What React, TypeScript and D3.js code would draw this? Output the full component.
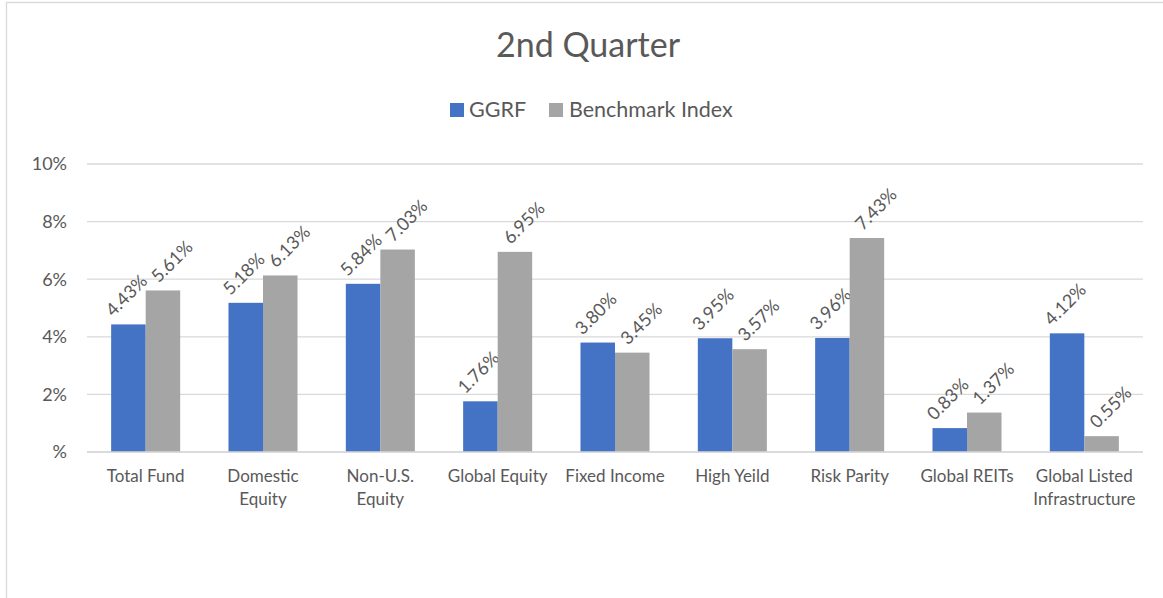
import * as d3 from 'd3'

const categories = [
  'Total Fund', 'Domestic Equity', 'Non-U.S. Equity', 'Global Equity', 'Fixed Income',
  'High Yeild', 'Risk Parity', 'Global REITs', 'Global Listed Infrastructure',
]
const categoryLines = [
  ['Total Fund'], ['Domestic', 'Equity'], ['Non-U.S.', 'Equity'], ['Global Equity'], ['Fixed Income'],
  ['High Yeild'], ['Risk Parity'], ['Global REITs'], ['Global Listed', 'Infrastructure'],
]
const ggrf = [4.43, 5.18, 5.84, 1.76, 3.80, 3.95, 3.96, 0.83, 4.12]
const benchmark = [5.61, 6.13, 7.03, 6.95, 3.45, 3.57, 7.43, 1.37, 0.55]
const seriesNames = ['GGRF', 'Benchmark Index']
const seriesColors = ['#4472C4', '#A5A5A5']
const yTicks = [0, 2, 4, 6, 8, 10]

const W = 1163
const H = 598
const M = { top: 164, right: 20, bottom: 146, left: 87 }
const FONT = 'Lato, Calibri, sans-serif'
const TEXT = '#595959'
const GRID = '#D9D9D9'

export default function App() {
  const x0 = d3.scaleBand().domain(categories).range([M.left, W - M.right]).padding(0)
  const x1 = d3.scaleBand().domain(seriesNames).range([0, x0.bandwidth()]).paddingInner(0).paddingOuter(0.7)
  const y = d3.scaleLinear().domain([0, 10]).range([H - M.bottom, M.top])
  const values = [ggrf, benchmark]

  return (
    <svg width={W} height={H} style={{ position: 'absolute', left: 0, top: 0, fontFamily: FONT }}>
      <rect x={0} y={0} width={W} height={H} fill="#fff" />
      <rect x={6.5} y={2.5} width={W + 20} height={H + 20} fill="none" stroke={GRID} strokeWidth={1.3} />

      <text x={588} y={57} textAnchor="middle" fontSize={34} fill={TEXT}>2nd Quarter</text>

      {/* legend */}
      <g>
        <rect x={450} y={103} width={14} height={14} fill={seriesColors[0]} />
        <text x={469} y={117} fontSize={21.5} fill={TEXT}>{seriesNames[0]}</text>
        <rect x={549} y={103} width={14} height={14} fill={seriesColors[1]} />
        <text x={569} y={117} fontSize={21.5} fill={TEXT}>{seriesNames[1]}</text>
      </g>

      {/* gridlines + y labels */}
      {yTicks.map(t => (
        <g key={t}>
          <line x1={M.left} x2={W - M.right} y1={y(t)} y2={y(t)} stroke={GRID} strokeWidth={1.3} />
          <text x={67} y={y(t)} dy="0.35em" textAnchor="end" fontSize={18} fill={TEXT}>
            {t === 0 ? '%' : `${t}%`}
          </text>
        </g>
      ))}

      {/* bars */}
      {categories.map((c, i) => (
        <g key={c} transform={`translate(${x0(c)},0)`}>
          {seriesNames.map((s, j) => {
            const v = values[j][i]
            const bx = x1(s)!
            const cx = bx + x1.bandwidth() / 2 + (j === 1 ? 9 : -2)
            const ty = y(v) - 29
            return (
              <g key={s}>
                <rect x={bx} y={y(v)} width={x1.bandwidth()} height={y(0) - y(v)} fill={seriesColors[j]} />
                <text
                  transform={`translate(${cx},${ty}) rotate(-45)`}
                  textAnchor="middle"
                  dy="0.35em"
                  fontSize={18}
                  fill={TEXT}
                >
                  {v.toFixed(2)}%
                </text>
              </g>
            )
          })}
          {categoryLines[i].map((line, k) => (
            <text key={k} x={x0.bandwidth() / 2} y={482 + k * 23} textAnchor="middle" fontSize={17} fill={TEXT}>
              {line}
            </text>
          ))}
        </g>
      ))}

      <line x1={M.left} x2={W - M.right} y1={y(0)} y2={y(0)} stroke={GRID} strokeWidth={1.3} />
    </svg>
  )
}
